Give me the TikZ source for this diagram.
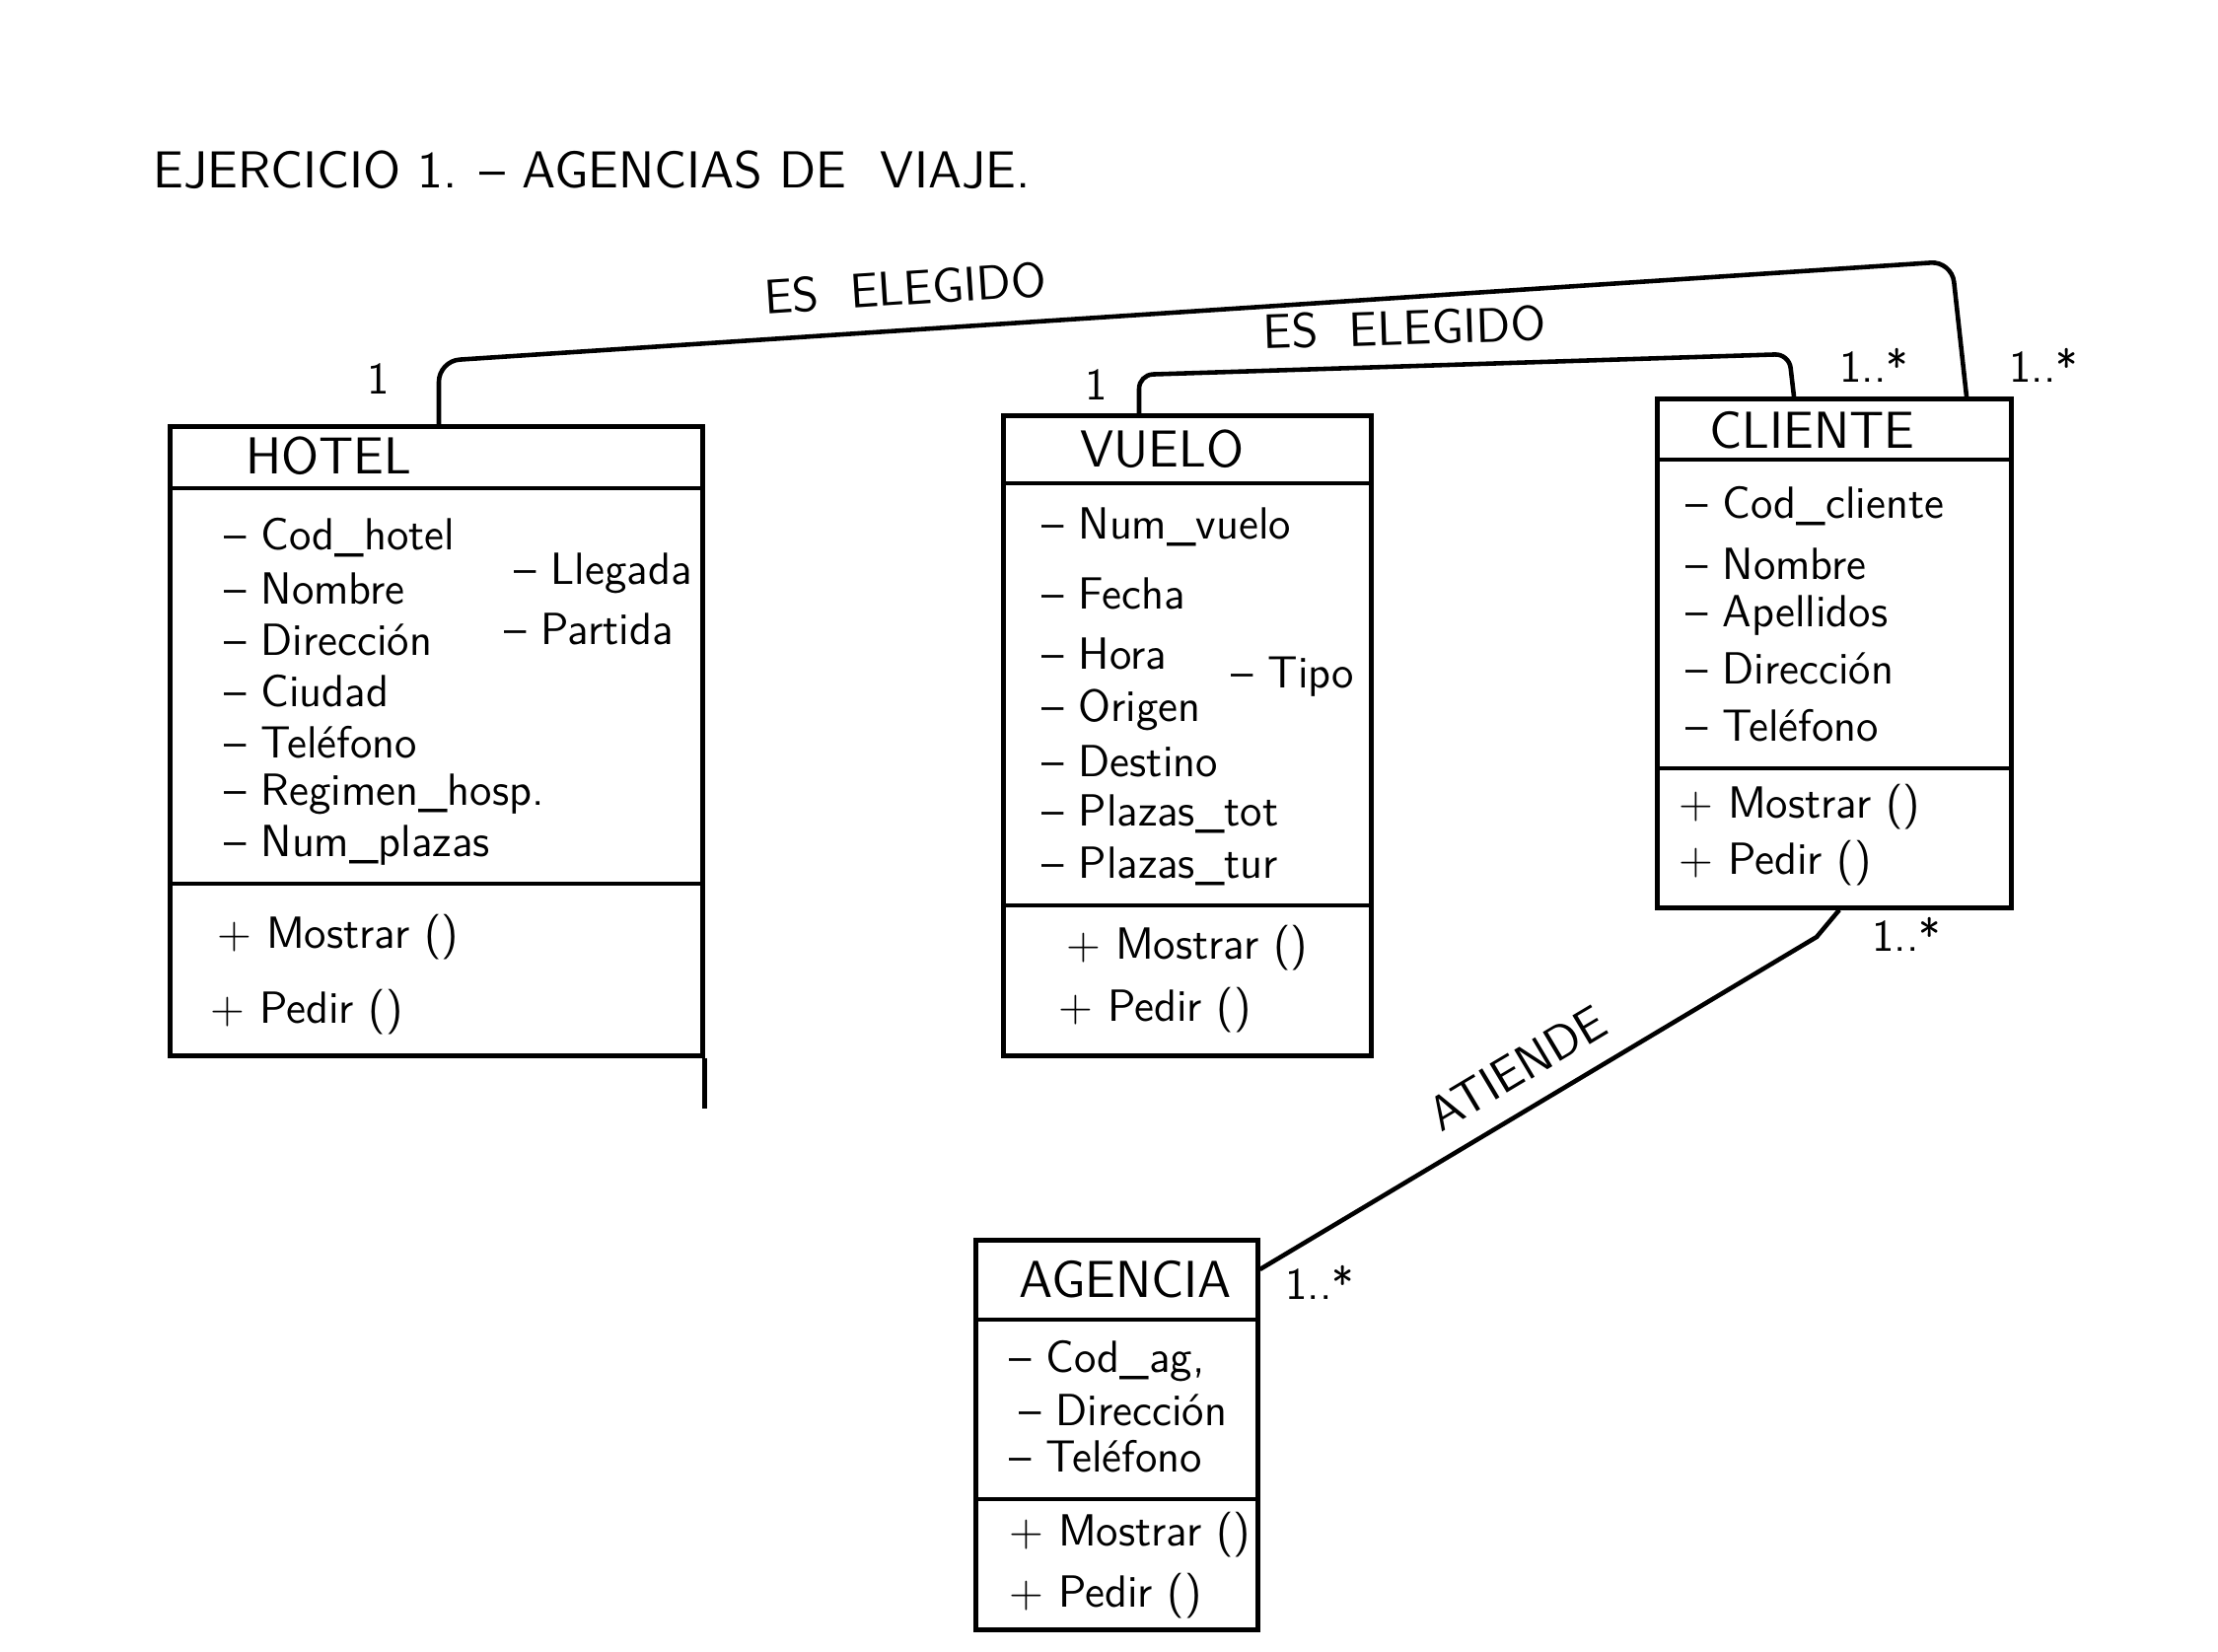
\documentclass[tikz,border=0pt]{standalone}
\usepackage{fontspec}
\usetikzlibrary{positioning}
\tikzset{
  clase/.style={draw, line width=1.3pt, anchor=north west, inner sep=0pt},
  linea/.style={line width=1.3pt},
  titulo/.style={anchor=west, font=\sffamily\fontsize{15}{18}\selectfont},
  atrib/.style={anchor=west, font=\sffamily\fontsize{13}{16}\selectfont},
  mult/.style={font=\sffamily\fontsize{13}{16}\selectfont},
  rol/.style={font=\sffamily\fontsize{14}{17}\selectfont}
}
\begin{document}
\begin{tikzpicture}
    \useasboundingbox (0,0) rectangle (22.49,-16.75);
    \node[titulo] (ej) at (1.43,-1.72) {EJERCICIO 1. -- AGENCIAS DE \ VIAJE.};

    \node[clase, minimum width=5.40cm, minimum height=6.38cm] (hotel) at (1.70,-4.30) {};
    \draw[linea] ([yshift=-0.65cm]hotel.north west) -- ([yshift=-0.65cm]hotel.north east);
    \draw[linea] ([yshift=-4.66cm]hotel.north west) -- ([yshift=-4.66cm]hotel.north east);
    \draw[linea] (hotel.south east) -- ++(0,-0.51);
    \node[titulo] (hotelt) at (2.37,-4.62) {HOTEL};
    \node[atrib] (h1) at (2.15,-5.45) {-- Cod\_hotel};
    \node[atrib] (h2) at (2.15,-5.97) {-- Nombre};
    \node[atrib] (h3) at (2.15,-6.49) {-- Dirección};
    \node[atrib] (h4) at (2.15,-7.01) {-- Ciudad};
    \node[atrib] (h5) at (2.15,-7.53) {-- Teléfono};
    \node[atrib] (h6) at (2.15,-8.05) {-- Regimen\_hosp.};
    \node[atrib] (h7) at (2.15,-8.57) {-- Num\_plazas};
    \node[atrib] (h8) at (5.09,-5.81) {-- Llegada};
    \node[atrib] (h9) at (4.99,-6.38) {-- Partida};
    \node[atrib] (hm1) at (2.08,-9.50) {+ Mostrar ()};
    \node[atrib] (hm2) at (2.01,-10.26) {+ Pedir ()};

    \node[clase, minimum width=3.73cm, minimum height=6.49cm] (vuelo) at (10.15,-4.19) {};
    \draw[linea] ([yshift=-0.71cm]vuelo.north west) -- ([yshift=-0.71cm]vuelo.north east);
    \draw[linea] ([yshift=-4.99cm]vuelo.north west) -- ([yshift=-4.99cm]vuelo.north east);
    \node[titulo] (vuelot) at (10.83,-4.55) {VUELO};
    \node[atrib] (v1) at (10.44,-5.34) {-- Num\_vuelo};
    \node[atrib] (v2) at (10.44,-6.02) {-- Fecha};
    \node[atrib] (v3) at (10.44,-6.63) {-- Hora};
    \node[atrib] (v4) at (10.44,-7.20) {-- Origen};
    \node[atrib] (v5) at (10.44,-7.72) {-- Destino};
    \node[atrib] (v6) at (10.44,-8.25) {-- Plazas\_tot};
    \node[atrib] (v7) at (10.44,-8.78) {-- Plazas\_tur};
    \node[atrib] (v8) at (12.36,-6.86) {-- Tipo};
    \node[atrib] (vm1) at (10.69,-9.61) {+ Mostrar ()};
    \node[atrib] (vm2) at (10.61,-10.24) {+ Pedir ()};

    \node[clase, minimum width=3.59cm, minimum height=5.16cm] (cliente) at (16.78,-4.02) {};
    \draw[linea] ([yshift=-0.64cm]cliente.north west) -- ([yshift=-0.64cm]cliente.north east);
    \draw[linea] ([yshift=-3.77cm]cliente.north west) -- ([yshift=-3.77cm]cliente.north east);
    \node[titulo] (clientet) at (17.21,-4.36) {CLIENTE};
    \node[atrib] (c1) at (16.97,-5.13) {-- Cod\_cliente};
    \node[atrib] (c2) at (16.97,-5.72) {-- Nombre};
    \node[atrib] (c3) at (16.97,-6.24) {-- Apellidos};
    \node[atrib] (c4) at (16.97,-6.78) {-- Dirección};
    \node[atrib] (c5) at (16.97,-7.36) {-- Teléfono};
    \node[atrib] (cm1) at (16.90,-8.18) {+ Mostrar ()};
    \node[atrib] (cm2) at (16.90,-8.75) {+ Pedir ()};

    \node[clase, minimum width=2.86cm, minimum height=3.95cm] (agencia) at (9.87,-12.55) {};
    \draw[linea] ([yshift=-0.83cm]agencia.north west) -- ([yshift=-0.83cm]agencia.north east);
    \draw[linea] ([yshift=-2.65cm]agencia.north west) -- ([yshift=-2.65cm]agencia.north east);
    \node[titulo] (agenciat) at (10.21,-12.97) {AGENCIA};
    \node[atrib] (a1) at (10.11,-13.80) {-- Cod\_ag,};
    \node[atrib] (a2) at (10.21,-14.30) {-- Dirección};
    \node[atrib] (a3) at (10.11,-14.77) {-- Teléfono};
    \node[atrib] (am1) at (10.11,-15.56) {+ Mostrar ()};
    \node[atrib] (am2) at (10.11,-16.18) {+ Pedir ()};

    \coordinate (codoA) at (19.79,-2.65);
    \coordinate (codoB) at (18.14,-3.59);
    \coordinate (codoC) at (18.42,-9.50);
    \draw[linea, rounded corners=6pt] ([xshift=2.75cm]hotel.north west) -- ++(0,0.64)
        -- node[rol, pos=0.31, above=3pt, sloped] (esA) {ES \ ELEGIDO} (codoA)
        -- ([xshift=3.16cm]cliente.north west);
    \draw[linea, rounded corners=4pt] ([xshift=1.40cm]vuelo.north west) -- ++(0,0.39)
        -- node[rol, pos=0.41, above=2pt, sloped] (esB) {ES \ ELEGIDO} (codoB)
        -- ([xshift=1.41cm]cliente.north west);
    \draw[linea] ([xshift=1.87cm]cliente.south west) -- (codoC)
        -- node[rol, midway, above=3pt, sloped] (atiende) {ATIENDE} ([yshift=-0.32cm]agencia.north east);

    \node[mult] (mh) at (3.84,-3.84) {1};
    \node[mult] (mv) at (11.12,-3.90) {1};
    \node[mult] (mc1) at (19.00,-3.70) {1..*};
    \node[mult] (mc2) at (20.72,-3.70) {1..*};
    \node[mult] (mc3) at (19.33,-9.47) {1..*};
    \node[mult] (ma) at (13.38,-13.00) {1..*};
\end{tikzpicture}
\end{document}
